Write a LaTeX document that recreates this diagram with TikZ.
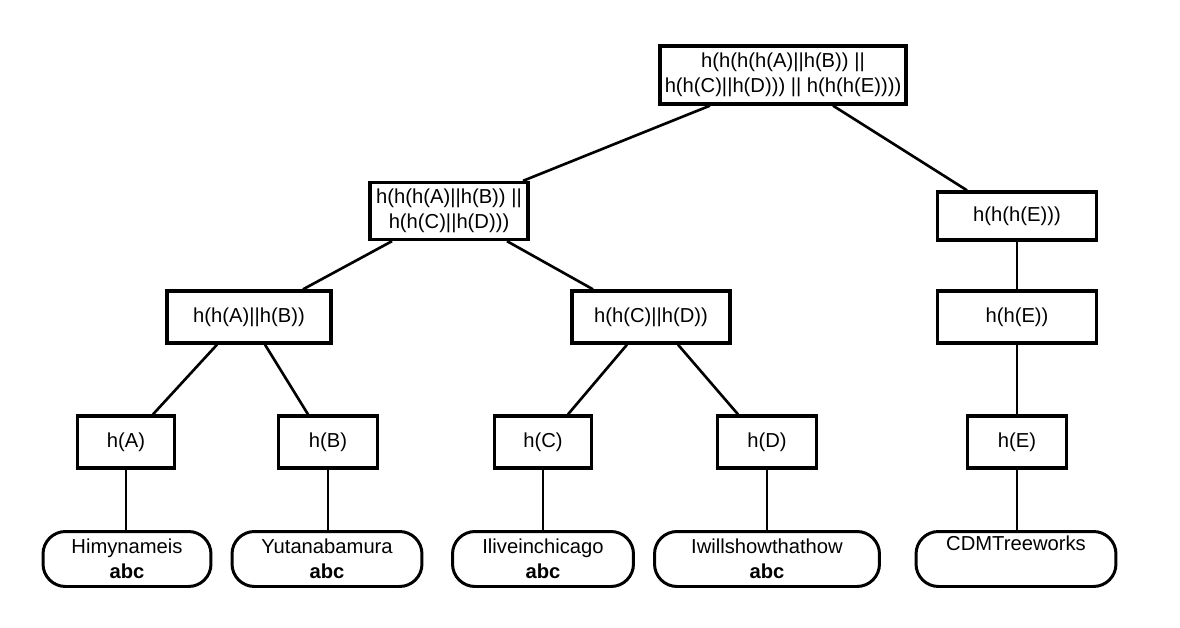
\documentclass[tikz,border=0pt]{standalone}
\usepackage{fontspec}
\setmainfont{Liberation Sans}
\usetikzlibrary{calc}

\begin{document}
\begin{tikzpicture}[
  x=0.02cm, y=-0.02cm,
  every node/.style={font=\fontsize{11.5}{14}\selectfont},
  hashbox/.style={draw=black, line width=1.9pt, fill=white, inner sep=0pt,
    align=center, minimum height=1.04cm},
  leafbox/.style={draw=black, line width=1.7pt, fill=white, inner sep=0pt,
    align=center, minimum height=1.1cm, rounded corners=0.45cm},
  edge/.style={draw=black, line width=1.5pt}
]
\useasboundingbox (0,0) rectangle (1180,628);
\node[hashbox, minimum width=4.92cm, minimum height=1.16cm] (root) at (783,75)
  {h(h(h(h(A)||h(B)) ||\\ h(h(C)||h(D))) || h(h(h(E))))};
\node[hashbox, minimum width=3.16cm, minimum height=1.14cm] (hABCD) at (449,211)
  {h(h(h(A)||h(B)) ||\\ h(h(C)||h(D)))};
\node[hashbox, minimum width=3.18cm, minimum height=0.96cm] (hhhE) at (1017,216) {h(h(h(E)))};
\node[hashbox, minimum width=3.28cm] (hAB) at (249,317) {h(h(A)||h(B))};
\node[hashbox, minimum width=3.16cm] (hCD) at (651,317) {h(h(C)||h(D))};
\node[hashbox, minimum width=3.18cm] (hhE) at (1017,317) {h(h(E))};
\node[hashbox, minimum width=1.94cm] (hA) at (126,442) {h(A)};
\node[hashbox, minimum width=1.98cm] (hB) at (328,442) {h(B)};
\node[hashbox, minimum width=1.94cm] (hC) at (543,442) {h(C)};
\node[hashbox, minimum width=1.98cm] (hD) at (767,442) {h(D)};
\node[hashbox, minimum width=1.98cm] (hE) at (1017,442) {h(E)};
\node[leafbox, minimum width=3.36cm] (dA) at (127,559) {Himynameis\\ \textbf{abc}};
\node[leafbox, minimum width=3.8cm] (dB) at (327,559) {Yutanabamura\\ \textbf{abc}};
\node[leafbox, minimum width=3.62cm] (dC) at (543,559) {Iliveinchicago\\ \textbf{abc}};
\node[leafbox, minimum width=4.5cm] (dD) at (767,559) {Iwillshowthathow\\ \textbf{abc}};
\node[leafbox, minimum width=4.0cm] (dE) at (1016,559) {CDMTreeworks\\ \strut};
% upper levels
\draw[edge] ($(root.south)+(-73,0)$) -- ($(hABCD.north)+(74,0)$);
\draw[edge] ($(root.south)+(50,0)$) -- ($(hhhE.north)+(-50,0)$);
\draw[edge] ($(hABCD.south)+(-57,0)$) -- ($(hAB.north)+(54,0)$);
\draw[edge] ($(hABCD.south)+(58,0)$) -- ($(hCD.north)+(-58,0)$);
\draw[edge] (hhhE) -- (hhE);
% hash level
\draw[edge] ($(hAB.south)+(-32,0)$) -- ($(hA.north)+(27,0)$);
\draw[edge] ($(hAB.south)+(16,0)$) -- ($(hB.north)+(-20,0)$);
\draw[edge] ($(hCD.south)+(-24,0)$) -- ($(hC.north)+(25,0)$);
\draw[edge] ($(hCD.south)+(27,0)$) -- ($(hD.north)+(-29,0)$);
\draw[edge] (hhE) -- (hE);
% data leaves
\draw[edge] (hA.south) -- (hA.south |- dA.north);
\draw[edge] (hB.south) -- (hB.south |- dB.north);
\draw[edge] (hC.south) -- (hC.south |- dC.north);
\draw[edge] (hD.south) -- (hD.south |- dD.north);
\draw[edge] (hE.south) -- (hE.south |- dE.north);
\end{tikzpicture}
\end{document}
